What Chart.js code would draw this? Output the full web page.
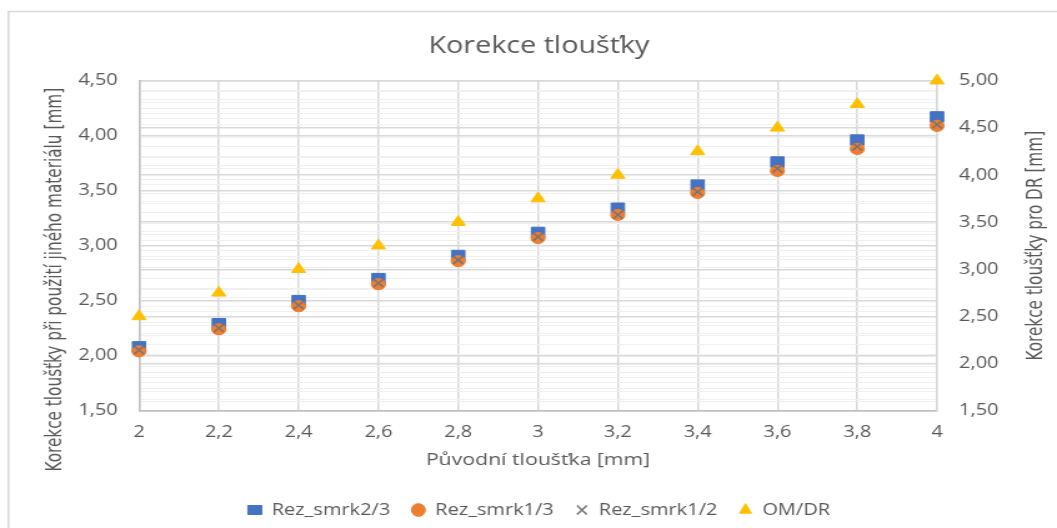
<!DOCTYPE html>
<html>
<head>
<meta charset="utf-8">
<script src="https://cdn.jsdelivr.net/npm/chart.js@4.4.1/dist/chart.umd.min.js"></script>
<style>
  html, body { margin: 0; padding: 0; background: #fff; overflow: hidden; }
  /* the reference is stretched horizontally, so draw narrower and scale */
  #wrap { width: 846px; height: 528px; transform: scaleX(1.2494); transform-origin: 0 0; }
</style>
</head>
<body>
<div id="wrap"><canvas id="myChart"></canvas></div>
<script>
const xValues = [2, 2.2, 2.4, 2.6, 2.8, 3, 3.2, 3.4, 3.6, 3.8, 4];
const rezSmrk23 = [2.08, 2.29, 2.50, 2.70, 2.91, 3.12, 3.34, 3.55, 3.76, 3.96, 4.17];
const rezSmrk13 = [2.04, 2.24, 2.45, 2.65, 2.86, 3.07, 3.28, 3.48, 3.68, 3.88, 4.09];
const rezSmrk12 = [2.05, 2.25, 2.46, 2.66, 2.87, 3.08, 3.28, 3.49, 3.70, 3.90, 4.10];
const omDr = [2.50, 2.75, 3.00, 3.25, 3.50, 3.75, 4.00, 4.25, 4.50, 4.75, 5.00];

const textColor = '#595959';
const tickFont = { family: '"Open Sans", sans-serif', size: 16 };
const sideTitleFont = { family: '"Liberation Sans Narrow", "DejaVu Sans Condensed", sans-serif', size: 17 };
const rightTitle = 'Korekce tloušťky pro DR [mm]';

const points = (ys) => xValues.map((x, i) => ({ x: x, y: ys[i] }));
const isMajor = (v) => Math.abs(v * 2 - Math.round(v * 2)) < 1e-6;
const fmtY = (v) => isMajor(v) ? v.toFixed(2).replace('.', ',') : '';
const gridColor = (ctx) => ctx.tick && isMajor(ctx.tick.value) ? '#d9d9d9' : '#f0f0f0';
const gridWidth = (ctx) => ctx.tick && isMajor(ctx.tick.value) ? 1.5 : 1;

// light frame of the chart object (left and top edges are visible)
const framePlugin = {
    id: 'frame',
    beforeDraw(chart) {
        const c = chart.ctx;
        c.save();
        c.fillStyle = '#fff';
        c.fillRect(0, 0, chart.width, chart.height);
        c.strokeStyle = '#d9d9d9';
        c.lineWidth = 1.5;
        c.beginPath();
        c.moveTo(6.8, chart.height);
        c.lineTo(6.8, 11.5);
        c.lineTo(chart.width, 11.5);
        c.stroke();
        c.restore();
    }
};

// secondary axis title reads bottom to top, like the primary one
const rightTitlePlugin = {
    id: 'rightTitle',
    afterDraw(chart) {
        const c = chart.ctx;
        const area = chart.chartArea;
        c.save();
        c.translate(830, (area.top + area.bottom) / 2);
        c.rotate(-Math.PI / 2);
        c.fillStyle = textColor;
        c.font = sideTitleFont.size + 'px ' + sideTitleFont.family;
        c.textAlign = 'center';
        c.textBaseline = 'middle';
        c.fillText(rightTitle, 0, 0);
        c.restore();
    }
};

const config = {
    type: 'scatter',
    data: {
        datasets: [
            {
                label: 'Rez_smrk2/3',
                data: points(rezSmrk23),
                yAxisID: 'y',
                pointStyle: 'rect',
                pointRadius: 7.5,
                backgroundColor: '#4472C4',
                borderColor: '#4472C4',
                borderWidth: 1,
                clip: false,
                order: 4
            },
            {
                label: 'Rez_smrk1/3',
                data: points(rezSmrk13),
                yAxisID: 'y',
                pointStyle: 'circle',
                pointRadius: 5.6,
                backgroundColor: '#ED7D31',
                borderColor: '#ED7D31',
                borderWidth: 1,
                clip: false,
                order: 3
            },
            {
                label: 'Rez_smrk1/2',
                data: points(rezSmrk12),
                yAxisID: 'y',
                pointStyle: 'crossRot',
                pointRadius: 5.5,
                backgroundColor: '#757575',
                borderColor: '#757575',
                borderWidth: 1.5,
                clip: false,
                order: 2
            },
            {
                label: 'OM/DR',
                data: points(omDr),
                yAxisID: 'y2',
                pointStyle: 'triangle',
                pointRadius: 6.5,
                backgroundColor: '#FFC000',
                borderColor: '#FFC000',
                borderWidth: 1,
                clip: false,
                order: 1
            }
        ]
    },
    options: {
        responsive: true,
        maintainAspectRatio: false,
        animation: false,
        layout: { padding: { left: 16.8, right: 0, top: 0, bottom: 0 } },
        plugins: {
            title: {
                display: true,
                text: 'Korekce tloušťky',
                color: textColor,
                font: { family: '"Open Sans", sans-serif', size: 23, weight: 'normal' },
                padding: { top: 33, bottom: 20.1 }
            },
            legend: {
                position: 'bottom',
                labels: {
                    usePointStyle: true,
                    boxHeight: 9,
                    pointStyleWidth: 11,
                    padding: 17,
                    color: textColor,
                    font: { family: '"Open Sans", sans-serif', size: 16 },
                    sort: (a, b) => a.datasetIndex - b.datasetIndex
                }
            },
            tooltip: { enabled: false }
        },
        scales: {
            x: {
                type: 'linear',
                min: 2,
                max: 4,
                afterFit: (scale) => { scale.height = 74.3; },
                ticks: {
                    stepSize: 0.2,
                    maxRotation: 0,
                    color: textColor,
                    font: tickFont,
                    padding: 12.5,
                    callback: (v) => String(Number(v.toFixed(1))).replace('.', ',')
                },
                grid: { color: '#d9d9d9', lineWidth: 1.5, drawTicks: false },
                border: { color: '#bfbfbf', width: 1.5 },
                title: {
                    display: true,
                    text: 'Původní tloušťka [mm]',
                    color: textColor,
                    font: { family: '"Open Sans", sans-serif', size: 17 },
                    padding: { top: 8, bottom: 15 }
                }
            },
            y: {
                position: 'left',
                min: 1.5,
                max: 4.5,
                afterFit: (scale) => { scale.width = 94.45; },
                ticks: {
                    stepSize: 0.1,
                    autoSkip: false,
                    maxTicksLimit: 100,
                    color: textColor,
                    font: tickFont,
                    padding: 17,
                    callback: fmtY
                },
                grid: { color: gridColor, lineWidth: gridWidth, drawTicks: false },
                border: { color: '#bfbfbf', width: 1.5 },
                title: {
                    display: true,
                    text: 'Korekce tloušťky při použití jiného materiálu [mm]              ',
                    color: textColor,
                    font: sideTitleFont,
                    padding: { top: 18, bottom: 0 }
                }
            },
            y2: {
                position: 'right',
                min: 1.5,
                max: 5,
                afterFit: (scale) => { scale.width = 96; },
                ticks: {
                    stepSize: 0.1,
                    autoSkip: false,
                    maxTicksLimit: 100,
                    color: textColor,
                    font: tickFont,
                    padding: 17.6,
                    callback: fmtY
                },
                grid: { color: gridColor, lineWidth: gridWidth, drawTicks: false },
                border: { color: '#d9d9d9', width: 1.5 }
            }
        }
    },
    plugins: [framePlugin, rightTitlePlugin]
};

const myChart = new Chart(document.getElementById('myChart'), config);
</script>
</body>
</html>
